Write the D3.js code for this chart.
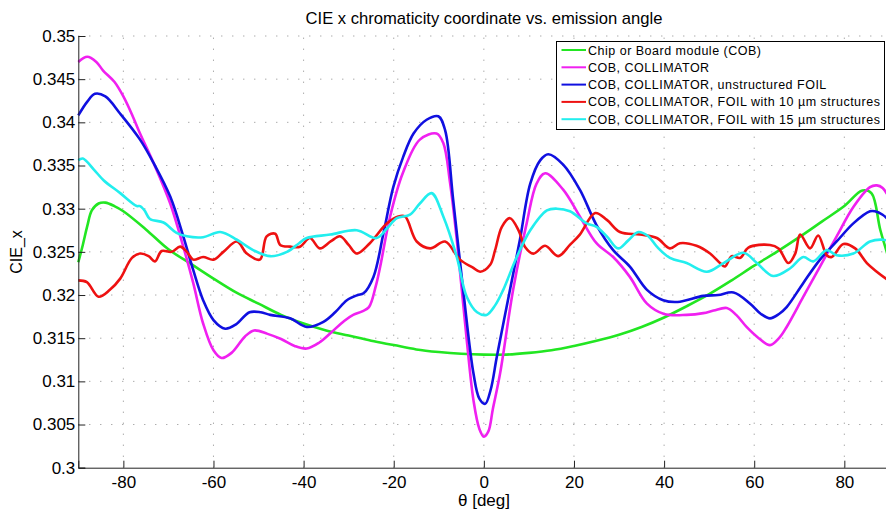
<!DOCTYPE html>
<html>
<head>
<meta charset="utf-8">
<script src="https://cdn.jsdelivr.net/npm/d3@7"></script>
<style>
  body { margin: 0; background: #fff; }
  text { font-family: "Liberation Sans", Arial, sans-serif; fill: #000; }
</style>
</head>
<body>
<script>
// CIE x vs. angle
var seriesNames = [
    'Chip or Board module (COB)',
    'COB, COLLIMATOR',
    'COB, COLLIMATOR, unstructured FOIL',
    'COB, COLLIMATOR, FOIL with 10 \u00b5m structures',
    'COB, COLLIMATOR, FOIL with 15 \u00b5m structures'
];
var seriesColors = ['#22e622', '#f020f0', '#1010e0', '#ee1111', '#22eeee'];

var greenAngles = [-90, -89, -88, -87, -85.5, -84, -82, -80, -75, -70, -65, -60, -55, -50, -45, -40, -35, -30, -25, -20, -15, -10, -5, 0, 5, 10, 15, 20, 25, 30, 35, 40, 45, 50, 55, 60, 65, 70, 75, 80, 84, 86, 88, 90];
var greenValues = [0.3238, 0.3258, 0.3280, 0.3298, 0.3306, 0.3307, 0.3303, 0.3297, 0.3276, 0.3253, 0.3236, 0.3219, 0.3203, 0.3190, 0.3177, 0.3167, 0.3159, 0.3153, 0.3147, 0.3142, 0.3137, 0.3134, 0.3132, 0.3131, 0.3131, 0.3133, 0.3136, 0.3141, 0.3147, 0.3154, 0.3163, 0.3174, 0.3187, 0.3201, 0.3217, 0.3234, 0.3250, 0.3267, 0.3285, 0.3303, 0.3321, 0.3318, 0.3275, 0.3240];

var magentaAngles = [-90, -88, -86, -84.5, -82, -80, -78, -76.3, -73.3, -69.6, -66.7, -64.5, -62.3, -60, -58.2, -56, -53, -51, -48, -45, -42, -39.3, -36.5, -34, -31, -29, -27, -25.5, -24, -23, -20.8, -18, -14.2, -10.5, -9, -7.5, -6, -3.8, -2.3, -1, 0, 1, 2, 3.6, 6.5, 9.5, 11.7, 13.6, 17.6, 21.3, 25, 28.7, 32.4, 36.2, 40, 45, 48.7, 51, 53.9, 56, 58.3, 61, 63.5, 65.5, 67.2, 70.9, 74.6, 78.3, 82, 85.7, 87.2, 88.5, 90];
var magentaValues = [0.3470, 0.3476, 0.3470, 0.3460, 0.3447, 0.3430, 0.3408, 0.3387, 0.3353, 0.3306, 0.3256, 0.3214, 0.3167, 0.3136, 0.3127, 0.3133, 0.3152, 0.3159, 0.3155, 0.3149, 0.3141, 0.3138, 0.3145, 0.3156, 0.3170, 0.3177, 0.3181, 0.3186, 0.3210, 0.3233, 0.3291, 0.3341, 0.3380, 0.3387, 0.3376, 0.3330, 0.3264, 0.3148, 0.3078, 0.3045, 0.3036, 0.3042, 0.3068, 0.3109, 0.3206, 0.3283, 0.3329, 0.3341, 0.3322, 0.3291, 0.3260, 0.3244, 0.3221, 0.3190, 0.3178, 0.3177, 0.3179, 0.3182, 0.3185, 0.3177, 0.3163, 0.3150, 0.3142, 0.3150, 0.3163, 0.3198, 0.3233, 0.3268, 0.3302, 0.3325, 0.3327, 0.3324, 0.3312];

var blueAngles = [-90, -88, -86.3, -84, -80.7, -76.3, -73.3, -69.6, -66.7, -64.5, -62.3, -60, -57.4, -55, -52, -49.5, -47.4, -43, -39.3, -35.6, -33, -30.4, -28, -26.7, -24.5, -22.3, -20.1, -17.9, -15.6, -12.7, -10.1, -8.6, -6.8, -4.5, -2.3, -1, 0.3, 1.5, 2.9, 5.8, 8, 10.3, 12.5, 14.3, 17.6, 21.3, 25, 28.7, 32.4, 36.2, 39.8, 43, 48.7, 52, 55.4, 59.1, 61.5, 63.5, 65.5, 67.2, 70.9, 74.6, 78.3, 82, 85.7, 86.8, 88.5, 90];
var blueValues = [0.3408, 0.3424, 0.3433, 0.3430, 0.3410, 0.3380, 0.3353, 0.3314, 0.3268, 0.3229, 0.3194, 0.3171, 0.3161, 0.3166, 0.3180, 0.3180, 0.3177, 0.3173, 0.3163, 0.3169, 0.3180, 0.3194, 0.3200, 0.3202, 0.3221, 0.3271, 0.3325, 0.3360, 0.3387, 0.3403, 0.3407, 0.3391, 0.3310, 0.3202, 0.3109, 0.3080, 0.3074, 0.3090, 0.3129, 0.3206, 0.3264, 0.3329, 0.3356, 0.3363, 0.3351, 0.3322, 0.3281, 0.3252, 0.3233, 0.3206, 0.3194, 0.3192, 0.3199, 0.3200, 0.3203, 0.3190, 0.3178, 0.3173, 0.3178, 0.3186, 0.3214, 0.3241, 0.3262, 0.3283, 0.3297, 0.3297, 0.3293, 0.3286];

var redAngles = [-90, -88.1, -85.5, -83, -80.7, -78.1, -76.3, -74.4, -73, -71.5, -69.3, -67.4, -65.9, -64.5, -62.3, -60, -57.8, -54.8, -52.6, -49.7, -48.2, -46.3, -45.2, -43, -40.8, -38.6, -36.4, -34, -31.9, -30, -28.2, -25.3, -21.5, -19, -17.5, -14.9, -11.9, -8.6, -5.3, -2.5, -0.8, 1.4, 2.5, 4, 5.8, 7.7, 9.1, 11, 13.6, 16.5, 19.1, 21.3, 24.7, 27.3, 30.2, 34.7, 38.4, 41.3, 43.5, 47.2, 50.2, 52.4, 53.5, 55, 56.9, 58.7, 63.5, 65.4, 67.6, 69.1, 70.2, 72.4, 74.2, 76.1, 77.2, 79.8, 82.4, 85, 87.2, 90];
var redValues = [0.3217, 0.3215, 0.3198, 0.3206, 0.3219, 0.3243, 0.3248, 0.3245, 0.3239, 0.3251, 0.3250, 0.3256, 0.3250, 0.3241, 0.3244, 0.3241, 0.3250, 0.3262, 0.3248, 0.3241, 0.3268, 0.3271, 0.3258, 0.3256, 0.3256, 0.3266, 0.3254, 0.3262, 0.3268, 0.3258, 0.3248, 0.3260, 0.3283, 0.3291, 0.3291, 0.3262, 0.3254, 0.3262, 0.3241, 0.3232, 0.3227, 0.3235, 0.3252, 0.3279, 0.3289, 0.3275, 0.3256, 0.3248, 0.3257, 0.3245, 0.3258, 0.3270, 0.3295, 0.3287, 0.3273, 0.3270, 0.3266, 0.3254, 0.3260, 0.3257, 0.3248, 0.3237, 0.3233, 0.3245, 0.3243, 0.3255, 0.3258, 0.3254, 0.3237, 0.3248, 0.3270, 0.3254, 0.3269, 0.3246, 0.3244, 0.3259, 0.3254, 0.3237, 0.3227, 0.3216];

var cyanAngles = [-90, -89, -86.5, -84.4, -80.7, -77, -76.3, -75.3, -74.1, -71.1, -68.2, -65.9, -62.3, -58.5, -54.8, -51.2, -47.4, -43.7, -41, -39.3, -34.1, -28.2, -23.8, -21.5, -19.3, -16.4, -14.2, -11.6, -9, -6, -3.8, -1.5, 0.6, 2.5, 4.3, 7.3, 10.3, 14, 16.2, 19.1, 22.8, 25, 27.3, 29.8, 32, 34.3, 36.5, 38.4, 41.3, 45, 49.5, 53.2, 57.6, 60.6, 64.2, 68, 70.9, 73.1, 76.1, 78.3, 82, 85.7, 88.7, 90];
var cyanValues = [0.3356, 0.3358, 0.3345, 0.3333, 0.3318, 0.3303, 0.3303, 0.3298, 0.3288, 0.3284, 0.3272, 0.3268, 0.3267, 0.3273, 0.3264, 0.3252, 0.3245, 0.3250, 0.3260, 0.3266, 0.3270, 0.3275, 0.3266, 0.3277, 0.3289, 0.3293, 0.3306, 0.3318, 0.3291, 0.3244, 0.3198, 0.3180, 0.3177, 0.3188, 0.3206, 0.3244, 0.3275, 0.3298, 0.3300, 0.3297, 0.3283, 0.3279, 0.3268, 0.3254, 0.3263, 0.3273, 0.3268, 0.3256, 0.3243, 0.3237, 0.3227, 0.3237, 0.3249, 0.3237, 0.3222, 0.3231, 0.3244, 0.3239, 0.3252, 0.3246, 0.3248, 0.3262, 0.3264, 0.3262];

var xTicks = [-80, -60, -40, -20, 0, 20, 40, 60, 80];
var yTicks = [0.3, 0.305, 0.31, 0.315, 0.32, 0.325, 0.33, 0.335, 0.34, 0.345, 0.35];

var allAngles = [greenAngles, magentaAngles, blueAngles, redAngles, cyanAngles];
var allValues = [greenValues, magentaValues, blueValues, redValues, cyanValues];

var svgWidth = 886;
var svgHeight = 510;

var svg = d3.select('body')
        .append('svg')
        .attr('width', svgWidth)
        .attr('height', svgHeight);

// the plot runs a bit past the right edge of the picture
var xScale = d3.scaleLinear()
        .domain([-90, 90])
        .range([78.3, 889.4]);

var yScale = d3.scaleLinear()
        .domain([0.3, 0.35])
        .range([467.7, 36]);

// dotted grid
svg.append('g')
        .selectAll('line')
        .data(yTicks.slice(1))
        .enter()
        .append('line')
        .attr('x1', xScale(-90))
        .attr('x2', xScale(90))
        .attr('y1', function (d) { return yScale(d); })
        .attr('y2', function (d) { return yScale(d); })
        .attr('stroke', '#888')
        .attr('stroke-width', 1)
        .attr('stroke-dasharray', '1,10');

svg.append('g')
        .selectAll('line')
        .data(xTicks)
        .enter()
        .append('line')
        .attr('x1', function (d) { return xScale(d); })
        .attr('x2', function (d) { return xScale(d); })
        .attr('y1', yScale(0.3))
        .attr('y2', yScale(0.35))
        .attr('stroke', '#888')
        .attr('stroke-width', 1)
        .attr('stroke-dasharray', '1,10');

// curves
var line = d3.line()
        .x(function (d) { return xScale(d[0]); })
        .y(function (d) { return yScale(d[1]); })
        .curve(d3.curveCatmullRom.alpha(0.5));

allValues.forEach(function (vals, i) {
    var pts = vals.map(function (v, j) { return [allAngles[i][j], v]; });
    svg.append('path')
            .datum(pts)
            .attr('fill', 'none')
            .attr('stroke', seriesColors[i])
            .attr('stroke-width', 2.6)
            .attr('stroke-linejoin', 'round')
            .attr('d', line);
});

// axes, MATLAB style ticks pointing inward
var xAxis = d3.axisBottom(xScale)
        .tickValues(xTicks)
        .tickSize(-7)
        .tickPadding(8)
        .tickFormat(function (d) { return String(d); });

var yAxis = d3.axisLeft(yScale)
        .tickValues(yTicks)
        .tickSize(-7)
        .tickPadding(3)
        .tickFormat(function (d) { return String(+d.toFixed(3)); });

var gx = svg.append('g')
        .attr('transform', 'translate(0,' + yScale(0.3) + ')')
        .call(xAxis);

var gy = svg.append('g')
        .attr('transform', 'translate(' + xScale(-90) + ',0)')
        .call(yAxis);

[gx, gy].forEach(function (g) {
    g.select('.domain').attr('stroke', '#222');
    g.selectAll('.tick line').attr('stroke', '#222');
    g.selectAll('.tick text')
            .style('font-family', '"Liberation Sans", Arial, sans-serif')
            .style('font-size', '17px')
            .attr('fill', '#000');
});

// titles
svg.append('text')
        .attr('x', 484)
        .attr('y', 24)
        .attr('text-anchor', 'middle')
        .style('font-size', '16.6px')
        .text('CIE x chromaticity coordinate vs. emission angle');

svg.append('text')
        .attr('x', 484)
        .attr('y', 506)
        .attr('text-anchor', 'middle')
        .style('font-size', '17px')
        .text('\u03b8 [deg]');

svg.append('text')
        .attr('transform', 'translate(22,252) rotate(-90)')
        .attr('text-anchor', 'middle')
        .style('font-size', '16px')
        .text('CIE_x');

// legend
var legend = svg.append('g');

legend.append('rect')
        .attr('x', 556.5)
        .attr('y', 41.5)
        .attr('width', 328)
        .attr('height', 88)
        .attr('fill', '#fff')
        .attr('stroke', '#000')
        .attr('stroke-width', 1);

seriesNames.forEach(function (name, i) {
    var ly = 50 + i * 17.3;
    legend.append('line')
            .attr('x1', 561.5)
            .attr('x2', 586)
            .attr('y1', ly)
            .attr('y2', ly)
            .attr('stroke', seriesColors[i])
            .attr('stroke-width', 2);
    legend.append('text')
            .attr('x', 588)
            .attr('y', ly + 4.5)
            .style('font-size', '12.5px')
            .style('letter-spacing', '0.5px')
            .text(name);
});
</script>
</body>
</html>
